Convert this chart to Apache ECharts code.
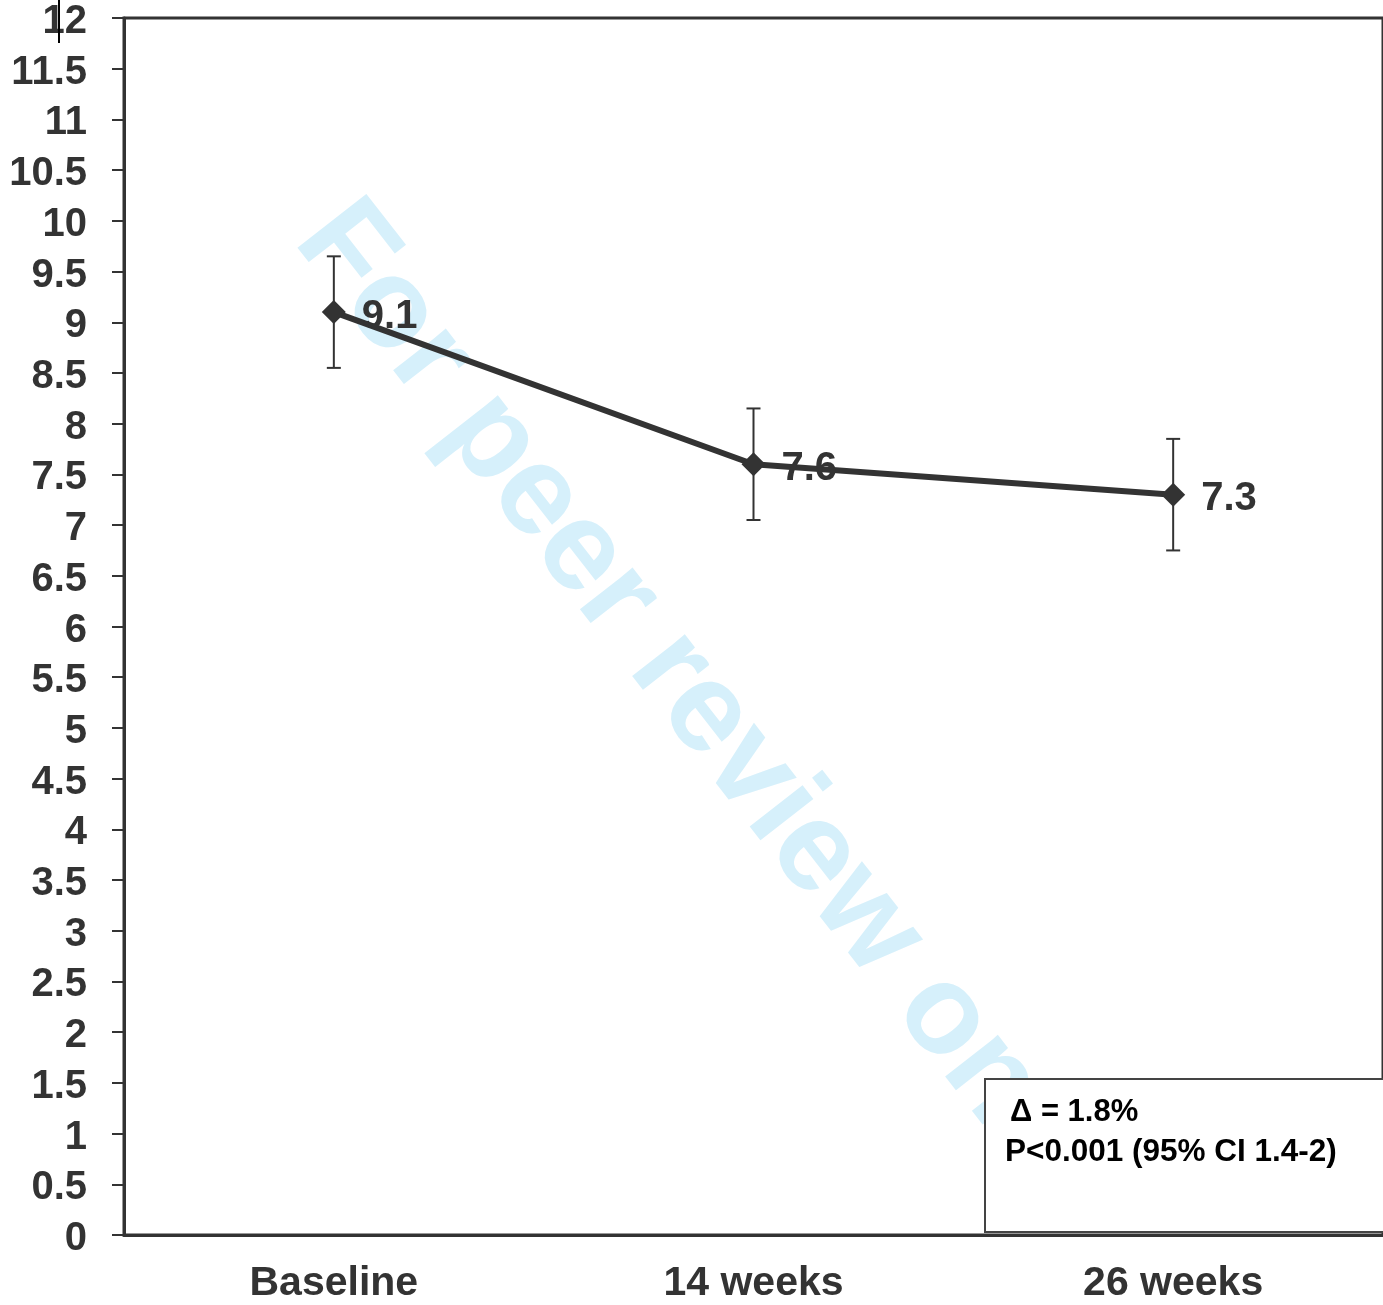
<!DOCTYPE html>
<html>
<head>
<meta charset="utf-8">
<script src="https://cdn.jsdelivr.net/npm/echarts@6/dist/echarts.min.js"></script>
<style>
html, body { margin: 0; padding: 0; background: #fff; }
#myChart { width: 1383px; height: 1305px; }
</style>
</head>
<body>
<div id="myChart"></div>
<script>
// categories and values
var categories = ['Baseline', '14 weeks', '26 weeks'];
var means = [9.1, 7.6, 7.3];
var lower = [8.55, 7.05, 6.75];
var upper = [9.65, 8.15, 7.85];
var noteLines = ['\u0394 = 1.8%', 'P<0.001 (95% CI 1.4-2)'];

var FONT = '"Liberation Sans", Arial, Helvetica, sans-serif';
var INK = '#333333';

var myChart = echarts.init(document.getElementById('myChart'));

var errData = categories.map(function (c, i) { return [i, lower[i], upper[i]]; });

var option = {
    animation: false,
    backgroundColor: '#fff',
    grid: {
        left: 124, top: 18, right: -1, bottom: 70,
        show: true, borderColor: INK, borderWidth: 3
    },
    xAxis: {
        type: 'category',
        data: categories,
        boundaryGap: true,
        axisLine: { lineStyle: { color: INK, width: 3 } },
        axisTick: { length: 12, lineStyle: { color: INK, width: 2 } },
        axisLabel: {
            color: INK, fontFamily: FONT, fontWeight: 'bold', fontSize: 41, margin: 28
        },
        splitLine: { show: false }
    },
    yAxis: {
        type: 'value',
        min: 0, max: 12, interval: 0.5,
        axisLine: { show: true, lineStyle: { color: INK, width: 3 } },
        axisTick: { show: true, length: 12, lineStyle: { color: INK, width: 2 } },
        axisLabel: {
            margin: 37,
            formatter: '{v|{value}}',
            rich: {
                v: {
                    color: INK, fontFamily: FONT, fontWeight: 'bold', fontSize: 40,
                    padding: [8, 0, 0, 0]
                }
            }
        },
        splitLine: { show: false }
    },
    graphic: [
        // watermark behind the data
        {
            type: 'text', x: 700, y: 706, z: 0,
            rotation: -52 * Math.PI / 180,
            style: {
                text: 'For peer review only',
                fill: '#d6f0fb',
                font: 'bold 127px ' + FONT,
                align: 'center', verticalAlign: 'middle',
                textAlign: 'center', textVerticalAlign: 'middle'
            }
        },
        {
            type: 'rect', z: 50,
            shape: { x: 985, y: 1079, width: 420, height: 153 },
            style: { fill: '#fff', stroke: '#444', lineWidth: 2 }
        },
        {
            type: 'text', x: 1010, y: 1112, z: 51,
            style: {
                text: noteLines[0], fill: '#000', font: 'bold 31px ' + FONT,
                align: 'left', verticalAlign: 'middle',
                textAlign: 'left', textVerticalAlign: 'middle'
            }
        },
        {
            type: 'text', x: 1005, y: 1152, z: 51,
            style: {
                text: noteLines[1], fill: '#000', font: 'bold 31.5px ' + FONT,
                align: 'left', verticalAlign: 'middle',
                textAlign: 'left', textVerticalAlign: 'middle'
            }
        },
        // stray cursor mark next to the top label
        {
            type: 'line', z: 51,
            shape: { x1: 59, y1: 0, x2: 59, y2: 43 },
            style: { stroke: '#000', lineWidth: 2 }
        }
    ],
    series: [
        {
            name: 'error',
            type: 'custom',
            z: 1,
            data: errData,
            renderItem: function (params, api) {
                var x = api.value(0);
                var top = api.coord([x, api.value(2)]);
                var bot = api.coord([x, api.value(1)]);
                var w = 7;
                var st = { stroke: INK, lineWidth: 2 };
                return {
                    type: 'group',
                    children: [
                        { type: 'line', shape: { x1: top[0], y1: top[1], x2: bot[0], y2: bot[1] }, style: st },
                        { type: 'line', shape: { x1: top[0] - w, y1: top[1], x2: top[0] + w, y2: top[1] }, style: st },
                        { type: 'line', shape: { x1: bot[0] - w, y1: bot[1], x2: bot[0] + w, y2: bot[1] }, style: st }
                    ]
                };
            }
        },
        {
            name: 'mean',
            type: 'line',
            z: 3,
            data: means,
            symbol: 'diamond',
            symbolSize: 24,
            itemStyle: { color: INK },
            lineStyle: { color: INK, width: 6 },
            label: {
                show: true,
                position: 'right',
                distance: 16,
                formatter: '{v|{c}}',
                rich: {
                    v: {
                        color: INK, fontFamily: FONT, fontWeight: 'bold', fontSize: 40,
                        padding: [9, 0, 0, 0]
                    }
                }
            }
        }
    ]
};

myChart.setOption(option);
</script>
</body>
</html>
